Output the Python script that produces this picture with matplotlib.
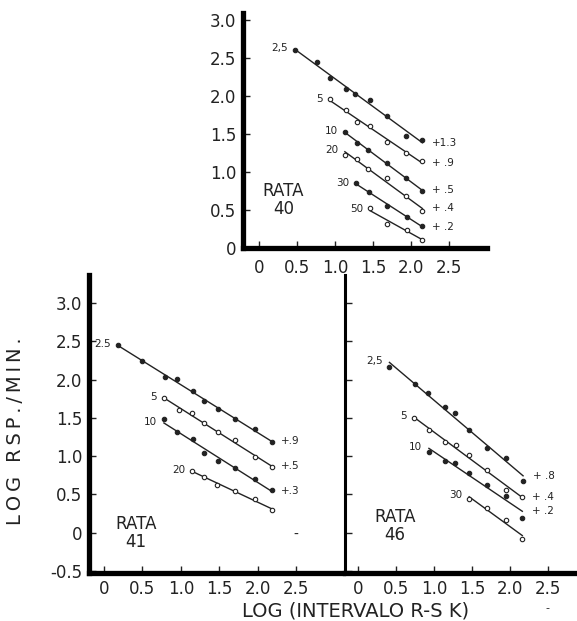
import matplotlib.pyplot as plt
import numpy as np

plt.rcParams.update({"font.family": ["DejaVu Sans"]})

W, H = 577, 621

# ── RATA 40 ──────────────────────────────────────────────────────────────────
r40_x_25 = [0.47, 0.77, 0.93, 1.14, 1.27, 1.46, 1.68, 1.94, 2.15]
r40_y_25 = [2.61, 2.44, 2.24, 2.09, 2.02, 1.95, 1.74, 1.47, 1.42]
r40_x_5 = [0.93, 1.14, 1.29, 1.46, 1.68, 1.94, 2.15]
r40_y_5 = [1.96, 1.82, 1.66, 1.60, 1.39, 1.25, 1.15]
r40_x_10 = [1.13, 1.29, 1.44, 1.68, 1.94, 2.15]
r40_y_10 = [1.53, 1.38, 1.29, 1.12, 0.92, 0.75]
r40_x_20 = [1.13, 1.29, 1.44, 1.68, 1.94, 2.15]
r40_y_20 = [1.22, 1.17, 1.04, 0.92, 0.68, 0.48]
r40_x_30 = [1.28, 1.45, 1.68, 1.95, 2.15]
r40_y_30 = [0.85, 0.74, 0.55, 0.41, 0.29]
r40_x_50 = [1.46, 1.68, 1.95, 2.15]
r40_y_50 = [0.52, 0.32, 0.24, 0.11]

# ── RATA 41 ──────────────────────────────────────────────────────────────────
r41_x_25 = [0.18, 0.50, 0.79, 0.95, 1.16, 1.30, 1.48, 1.70, 1.96, 2.18]
r41_y_25 = [2.46, 2.24, 2.03, 2.01, 1.85, 1.72, 1.62, 1.48, 1.36, 1.19]
r41_x_5 = [0.78, 0.97, 1.14, 1.30, 1.49, 1.70, 1.96, 2.18]
r41_y_5 = [1.76, 1.60, 1.57, 1.43, 1.31, 1.21, 0.99, 0.86]
r41_x_10 = [0.78, 0.95, 1.16, 1.30, 1.49, 1.70, 1.96, 2.18]
r41_y_10 = [1.48, 1.31, 1.22, 1.04, 0.94, 0.85, 0.70, 0.56]
r41_x_20 = [1.15, 1.30, 1.47, 1.70, 1.96, 2.18]
r41_y_20 = [0.81, 0.73, 0.62, 0.54, 0.44, 0.30]

# ── RATA 46 ──────────────────────────────────────────────────────────────────
r46_x_25 = [0.41, 0.75, 0.92, 1.14, 1.27, 1.46, 1.69, 1.95, 2.17]
r46_y_25 = [2.16, 1.94, 1.82, 1.64, 1.57, 1.34, 1.11, 0.98, 0.67]
r46_x_5 = [0.73, 0.93, 1.14, 1.29, 1.46, 1.69, 1.95, 2.16]
r46_y_5 = [1.50, 1.34, 1.18, 1.15, 1.02, 0.82, 0.56, 0.46]
r46_x_10 = [0.93, 1.14, 1.27, 1.46, 1.69, 1.95, 2.16]
r46_y_10 = [1.06, 0.93, 0.91, 0.78, 0.62, 0.48, 0.19]
r46_x_30 = [1.46, 1.69, 1.95, 2.16]
r46_y_30 = [0.44, 0.32, 0.16, -0.08]

# (x, y, concentration label, offset label, open marker)
RATA40 = [
    (r40_x_25, r40_y_25, "2,5", "+1.3", False),
    (r40_x_5, r40_y_5, "5", "+ .9", True),
    (r40_x_10, r40_y_10, "10", "+ .5", False),
    (r40_x_20, r40_y_20, "20", "+ .4", True),
    (r40_x_30, r40_y_30, "30", "+ .2", False),
    (r40_x_50, r40_y_50, "50", "", True),
]
RATA41 = [
    (r41_x_25, r41_y_25, "2.5", "+.9", False),
    (r41_x_5, r41_y_5, "5", "+.5", True),
    (r41_x_10, r41_y_10, "10", "+.3", False),
    (r41_x_20, r41_y_20, "20", "", True),
]
RATA46 = [
    (r46_x_25, r46_y_25, "2,5", "+ .8", False),
    (r46_x_5, r46_y_5, "5", "+ .4", True),
    (r46_x_10, r46_y_10, "10", "+ .2", False),
    (r46_x_30, r46_y_30, "30", "", True),
]

X_TICKS = [0, 0.5, 1.0, 1.5, 2.0, 2.5]
X_TICKLABELS = ["0", "0.5", "1.0", "1.5", "2.0", "2.5"]
Y_TICKS_TOP = [0, 0.5, 1.0, 1.5, 2.0, 2.5, 3.0]
Y_TICKLABELS_TOP = ["0", "0.5", "1.0", "1.5", "2.0", "2.5", "3.0"]
Y_TICKS_BOT = [-0.5, 0, 0.5, 1.0, 1.5, 2.0, 2.5, 3.0]
Y_TICKLABELS_BOT = ["-0.5", "0", "0.5", "1.0", "1.5", "2.0", "2.5", "3.0"]

INK = "#222222"


def _axes_px(fig, x0, y0, x1, y1):
    """Axes placed by pixel box (top-left origin)."""
    return fig.add_axes([x0 / W, (H - y1) / H, (x1 - x0) / W, (y1 - y0) / H])


def _style(ax, yw=3.8, xw=3.8, xpad=8):
    for s in ("top", "right"):
        ax.spines[s].set_visible(False)
    ax.spines["left"].set_linewidth(yw)
    ax.spines["bottom"].set_linewidth(xw)
    ax.tick_params(direction="in", length=5, width=1.0, labelsize=12,
                   colors=INK)
    ax.tick_params(axis="x", pad=xpad)
    ax.tick_params(axis="y", pad=5)
    ax.patch.set_alpha(0)


def _draw_series(ax, series):
    for x, y, conc, off, hollow in series:
        x = np.asarray(x)
        y = np.asarray(y)
        k, b = np.polyfit(x, y, 1)
        xs = np.array([x[0], x[-1]])
        ax.plot(xs, k * xs + b, color=INK, linewidth=1.0, zorder=2)
        ax.plot(x, y, linestyle="none", marker="o", markersize=3.2,
                markerfacecolor="white" if hollow else INK,
                markeredgecolor=INK, markeredgewidth=0.8, zorder=3)
        ax.annotate(conc, (x[0], k * x[0] + b), xytext=(-5, 1),
                    textcoords="offset points", ha="right", va="center",
                    fontsize=7.5, color=INK)
        if off:
            ax.annotate(off, (x[-1], k * x[-1] + b), xytext=(7, 0),
                        textcoords="offset points", ha="left", va="center",
                        fontsize=7.5, color=INK)


fig = plt.figure(figsize=(W / 100, H / 100), dpi=100)

# top panel
ax40 = _axes_px(fig, 243, 13, 487, 248)
ax40.set_xlim(-0.21, 3.0)
ax40.set_ylim(0, 3.09)
_style(ax40)
ax40.set_xticks(X_TICKS, X_TICKLABELS)
ax40.set_yticks(Y_TICKS_TOP, Y_TICKLABELS_TOP)
_draw_series(ax40, RATA40)
ax40.text(0.32, 0.63, "RATA\n40", ha="center", va="center", fontsize=12,
          linespacing=1.0, color=INK)

# bottom-left panel
ax41 = _axes_px(fig, 89, 275, 343, 573)
ax41.set_xlim(-0.195, 3.11)
ax41.set_ylim(-0.53, 3.37)
_style(ax41, xpad=5)
ax41.set_xticks(X_TICKS, X_TICKLABELS)
ax41.set_yticks(Y_TICKS_BOT, Y_TICKLABELS_BOT)
_draw_series(ax41, RATA41)
ax41.text(0.42, 0.0, "RATA\n41", ha="center", va="center", fontsize=12,
          linespacing=1.0, color=INK)
ax41.text(2.5, -0.03, "-", ha="center", va="center", fontsize=10, color=INK)

# bottom-right panel
ax46 = _axes_px(fig, 345, 275, 577, 573)
ax46.set_xlim(-0.175, 2.88)
ax46.set_ylim(-0.53, 3.37)
_style(ax46, yw=2.2, xpad=5)
ax46.set_xticks(X_TICKS, X_TICKLABELS)
ax46.set_yticks(Y_TICKS_BOT, [""] * len(Y_TICKS_BOT))
_draw_series(ax46, RATA46)
ax46.text(0.48, 0.08, "RATA\n46", ha="center", va="center", fontsize=12,
          linespacing=1.0, color=INK)

# shared axis titles, letter-spaced
ylab = "\u2009".join("LOG RSP./MIN.")
fig.text(16 / W, 1 - 431 / H, ylab, rotation=90, ha="center", va="center",
         fontsize=14, color=INK)
fig.text(356 / W, 1 - 611 / H, "LOG (INTERVALO R-S K)", ha="center",
         va="center", fontsize=14, color=INK)
fig.text(547 / W, 1 - 608 / H, "-", ha="center", va="center", fontsize=8,
         color=INK)

fig.savefig("out.png", dpi=100)
